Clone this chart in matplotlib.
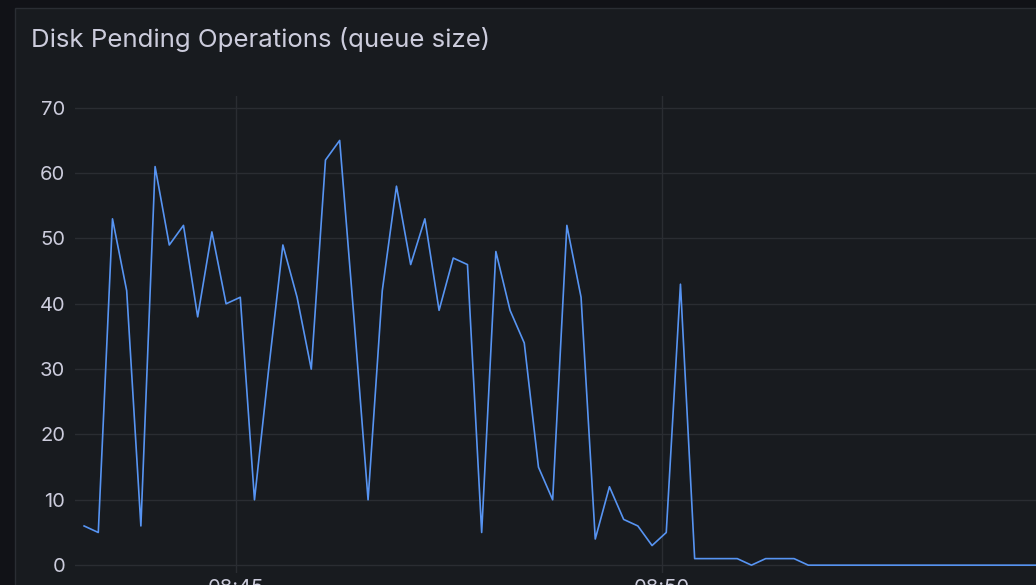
import pandas as pd
import matplotlib
matplotlib.use("Agg")
import matplotlib.pyplot as plt
import matplotlib.dates as mdates
from matplotlib.patches import Rectangle

TITLE = "Disk Pending Operations (queue size)"
START = "2024-01-01 08:43:13"
STEP = "10s"
Y_TICKS = [0, 10, 20, 30, 40, 50, 60, 70]

# queue size, one sample every 10 s
QUEUE = [6, 5, 53, 42, 6, 61, 49, 52, 38, 51,
         40, 41, 10, 30, 49, 41, 30, 62, 65, 38,
         10, 42, 58, 46, 53, 39, 47, 46, 5, 48,
         39, 34, 15, 10, 52, 41, 4, 12, 7, 6,
         3, 5, 43, 1, 1, 1, 1, 0, 1, 1,
         1, 0, 0, 0, 0, 0, 0, 0, 0, 0,
         0, 0, 0, 0, 0, 0, 0, 0, 0]

BG_OUTER = "#111217"
BG_PANEL = "#181b1f"
BORDER = "#2a2d33"
GRID = "#2a2d32"
TEXT = "#ccccdc"
LINE = "#5794f2"

W, H = 1036, 585


def main():
    plt.rcParams['font.family'] = ['Inter', 'DejaVu Sans']

    times = pd.date_range(START, periods=len(QUEUE), freq=STEP)

    fig = plt.figure(figsize=(W / 100, H / 100), dpi=100)
    fig.patch.set_facecolor(BG_OUTER)

    # panel box, drawn under the axes
    fig.patches.append(Rectangle((15 / W, -0.1), 1.2, 1 - 8 / H + 0.1,
                                 transform=fig.transFigure,
                                 facecolor=BG_PANEL, edgecolor=BORDER,
                                 linewidth=1.0, zorder=-5))

    fig.text(31 / W, 1 - 40 / H, TITLE, color=TEXT, fontsize=18.6,
             ha='left', va='center')

    ax = fig.add_axes([75 / W, (H - 573) / H, (W - 75) / W, (573 - 96) / H])
    ax.set_zorder(2)
    ax.set_facecolor(BG_PANEL)
    ax.plot(times, QUEUE, color=LINE, linewidth=1.2, zorder=3)

    t0 = pd.Timestamp("2024-01-01 08:45:00")
    ax.set_xlim(t0 - pd.Timedelta(seconds=113.4), t0 + pd.Timedelta(seconds=563.4))
    ax.set_ylim(-1.2, 71.8)
    ax.set_yticks(Y_TICKS)
    ax.xaxis.set_major_locator(mdates.MinuteLocator(byminute=range(0, 60, 5)))
    ax.xaxis.set_major_formatter(mdates.DateFormatter("%H:%M"))

    for s in ax.spines.values():
        s.set_visible(False)
    ax.grid(True, color=GRID, linewidth=1.0)
    ax.set_axisbelow(True)
    ax.tick_params(length=0, colors=TEXT, labelsize=14.5, pad=7)
    ax.tick_params(axis='x', pad=4)

    fig.savefig("out.png", dpi=100, facecolor=fig.get_facecolor())


if __name__ == "__main__":
    main()
